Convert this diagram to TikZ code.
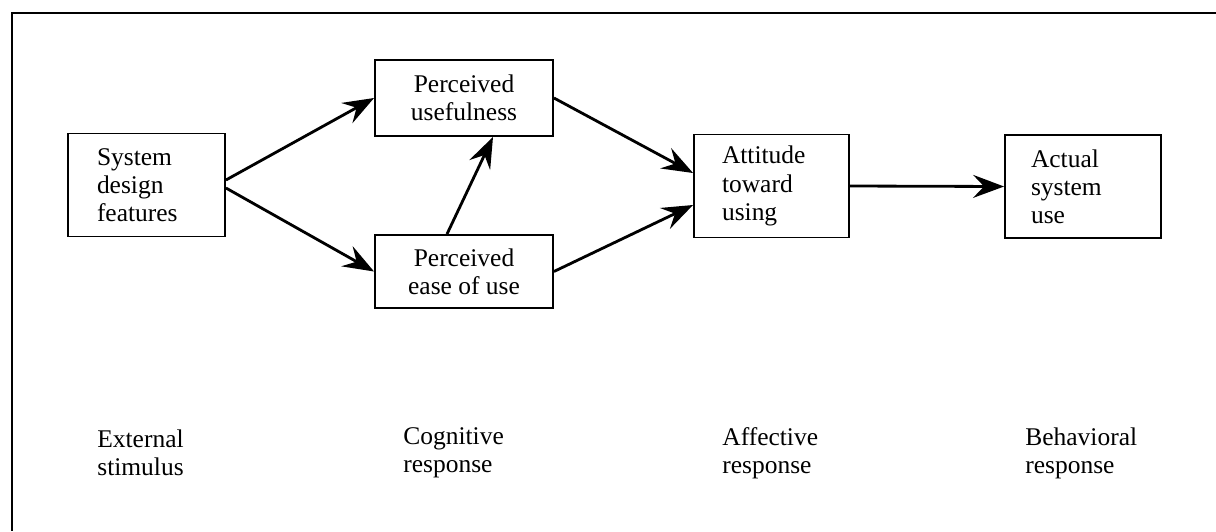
\documentclass[tikz,border=0pt]{standalone}
\usepackage{fontspec}
\setmainfont{Liberation Serif}
\usepackage{tikz}
\usetikzlibrary{arrows.meta, positioning}

\begin{document}
\begin{tikzpicture}[
    x=0.02cm, y=-0.02cm,
    block/.style={rectangle, draw, line width=1.1pt, inner ysep=0pt, font=\fontsize{14.5}{16}\selectfont},
    leftblock/.style={block, align=left, inner xsep=0.56cm, text width=1.98cm, minimum height=2.06cm},
    midblock/.style={block, align=center, minimum width=3.56cm},
    stage/.style={anchor=west, align=left, inner sep=0pt, font=\fontsize{14.5}{16}\selectfont},
    link/.style={-{Stealth[length=0.62cm, width=0.46cm, inset=0.22cm]}, line width=1.6pt},
    ]
    \useasboundingbox (0,0) rectangle (1216,531);

    % Frame (cut at the right and bottom)
    \draw[line width=1.1pt] (1216,13) -- (12,13) -- (12,531);

    % Stimulus
    \node[leftblock, inner xsep=0.58cm] (sys) at (146.5,185) {System\\design\\features};

    % Cognitive response
    \node[midblock, minimum height=1.52cm] (pu) at (464,98) {Perceived\\usefulness};
    \node[midblock, minimum height=1.46cm] (peou) at (464,271.5) {Perceived\\ease of use};

    % Affective response
    \node[leftblock] (att) at (771.5,186) {Attitude\\toward\\using};

    % Behavioral response
    \node[leftblock, inner xsep=0.52cm, text width=2.08cm] (act) at (1083,186.5) {Actual\\system\\use};

    % Links
    \draw[link] ([yshift=0.1cm]sys.east) -- (pu.west);
    \draw[link] ([yshift=-0.06cm]sys.east) -- (peou.west);
    \draw[link] ([xshift=-0.34cm]peou.north) -- ([xshift=0.58cm]pu.south);
    \draw[link] (pu.east) -- ([yshift=0.26cm]att.west);
    \draw[link] (peou.east) -- ([yshift=-0.38cm]att.west);
    \draw[link] (att.east) -- (act.west);

    % Stage labels
    \node[stage] (ext) at (97,453) {External\\stimulus};
    \node[stage] (cog) at (403,453) {Cognitive\\response};
    \node[stage] (aff) at (722,453) {Affective\\response};
    \node[stage] (beh) at (1025,453) {Behavioral\\response};

\end{tikzpicture}
\end{document}
